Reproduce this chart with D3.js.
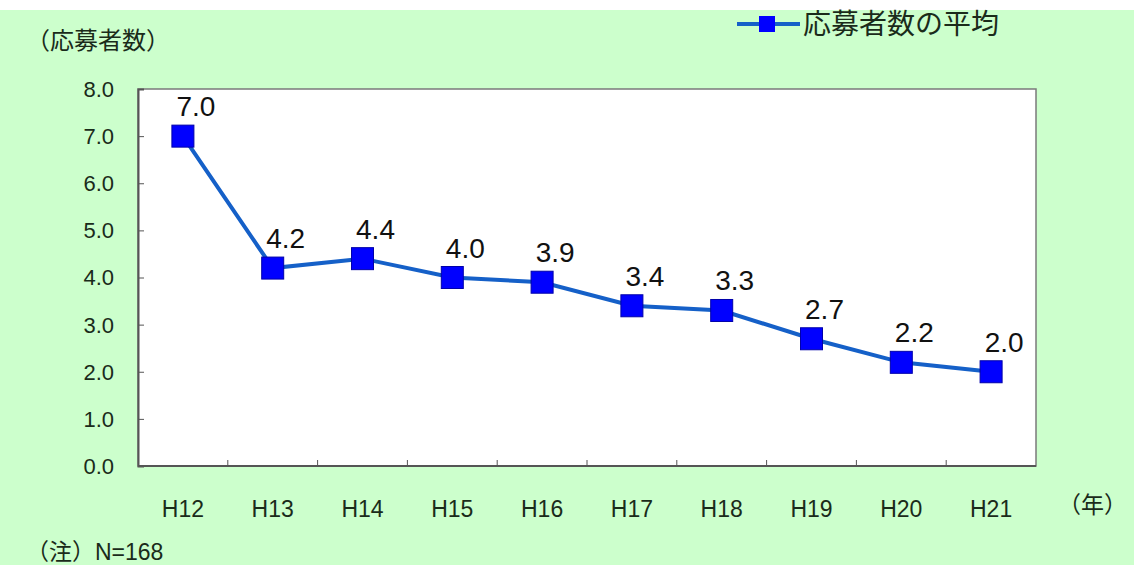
<!DOCTYPE html>
<html>
<head>
<meta charset="utf-8">
<script src="https://cdn.jsdelivr.net/npm/d3@7"></script>
<style>
  body { margin: 0; background: #fff; }
  text { font-family: "Liberation Sans", "Noto Sans CJK JP", sans-serif; fill: #1a2b1a; }
</style>
</head>
<body>
<svg id="chart" width="1134" height="565"></svg>
<script>
// data
var years = ['H12', 'H13', 'H14', 'H15', 'H16', 'H17', 'H18', 'H19', 'H20', 'H21'];
var averages = [7.0, 4.2, 4.4, 4.0, 3.9, 3.4, 3.3, 2.7, 2.2, 2.0];
var yTicks = [0, 1, 2, 3, 4, 5, 6, 7, 8];
var seriesName = '応募者数の平均';

var svg = d3.select('#chart');
var plot = { left: 138, top: 89, right: 1036, bottom: 466 };

// green background with white strip on top
svg.append('rect').attr('x', 0).attr('y', 10).attr('width', 1134).attr('height', 555)
  .attr('fill', '#ccffcc');

var x = d3.scaleBand().domain(years).range([plot.left, plot.right]);
var y = d3.scaleLinear().domain([0, 8]).range([plot.bottom, plot.top]);

svg.append('rect')
  .attr('x', plot.left).attr('y', plot.top)
  .attr('width', plot.right - plot.left).attr('height', plot.bottom - plot.top)
  .attr('fill', '#fff').attr('stroke', '#7a7a7a').attr('stroke-width', 1.5);

// y axis ticks (inward) and labels
var yAxis = svg.append('g').attr('transform', 'translate(' + plot.left + ',0)')
  .call(d3.axisRight(y).tickValues(yTicks).tickSize(6).tickFormat(''));
yAxis.select('.domain').attr('stroke', '#555').attr('stroke-width', 2);
yAxis.selectAll('line').attr('stroke', '#555');

svg.selectAll('.ylab').data(yTicks).enter().append('text')
  .attr('class', 'ylab')
  .attr('x', 114).attr('y', function(d) { return y(d); })
  .attr('dy', '0.36em').attr('text-anchor', 'end')
  .style('font-size', '22px')
  .text(function(d) { return d3.format('.1f')(d); });

// x axis: ticks at category boundaries, pointing up
var boundaries = years.slice(1).map(function(d) { return x(d); });
svg.append('line').attr('x1', plot.left).attr('x2', plot.right)
  .attr('y1', plot.bottom).attr('y2', plot.bottom)
  .attr('stroke', '#555').attr('stroke-width', 2);
svg.selectAll('.xtick').data(boundaries).enter().append('line')
  .attr('class', 'xtick')
  .attr('x1', function(d) { return d; }).attr('x2', function(d) { return d; })
  .attr('y1', plot.bottom).attr('y2', plot.bottom - 6)
  .attr('stroke', '#555');

svg.selectAll('.xlab').data(years).enter().append('text')
  .attr('class', 'xlab')
  .attr('x', function(d) { return x(d) + x.bandwidth() / 2; })
  .attr('y', 517).attr('text-anchor', 'middle')
  .style('font-size', '23px')
  .text(function(d) { return d; });

// line + markers
var cx = function(d, i) { return x(years[i]) + x.bandwidth() / 2; };
var line = d3.line().x(cx).y(function(d) { return y(d); });

svg.append('path').datum(averages)
  .attr('d', line).attr('fill', 'none')
  .attr('stroke', '#1560c8').attr('stroke-width', 4);

svg.selectAll('.pt').data(averages).enter().append('rect')
  .attr('class', 'pt')
  .attr('x', function(d, i) { return cx(d, i) - 11; })
  .attr('y', function(d) { return y(d) - 11; })
  .attr('width', 22).attr('height', 22)
  .attr('fill', '#0000ff').attr('stroke', '#0000aa').attr('stroke-width', 1);

svg.selectAll('.val').data(averages).enter().append('text')
  .attr('class', 'val')
  .attr('x', function(d, i) { return cx(d, i) + 13; })
  .attr('y', function(d) { return y(d) - 20; })
  .attr('text-anchor', 'middle')
  .style('font-size', '28px').style('fill', '#111')
  .text(function(d) { return d3.format('.1f')(d); });

// titles and notes
svg.append('text').attr('x', 26).attr('y', 49)
  .style('font-size', '24px').text('（応募者数）');
svg.append('text').attr('x', 1058).attr('y', 513)
  .style('font-size', '23px').text('（年）');
svg.append('text').attr('x', 26).attr('y', 560)
  .style('font-size', '23px').text('（注）N=168');

// legend
var lg = svg.append('g').attr('transform', 'translate(737,24)');
lg.append('line').attr('x1', 0).attr('x2', 63).attr('y1', 0).attr('y2', 0)
  .attr('stroke', '#1560c8').attr('stroke-width', 4);
lg.append('rect').attr('x', 22).attr('y', -8).attr('width', 16).attr('height', 16)
  .attr('fill', '#0000ff');
lg.append('text').attr('x', 66).attr('y', 0).attr('dy', '0.36em')
  .style('font-size', '28px').text(seriesName);
</script>
</body>
</html>
